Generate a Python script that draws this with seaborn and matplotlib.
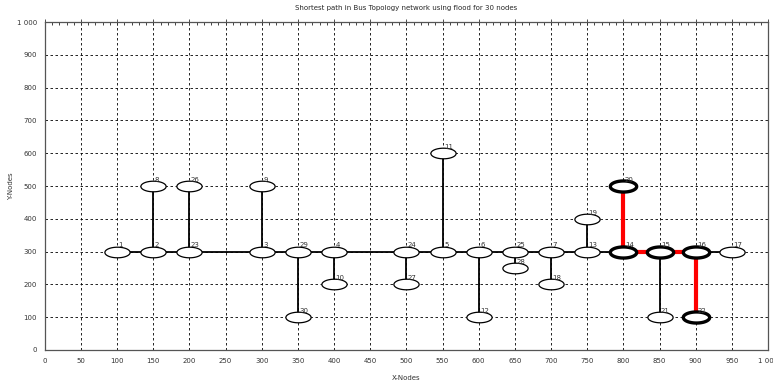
import numpy as np
import pandas as pd
import matplotlib
matplotlib.use("Agg")
import matplotlib.pyplot as plt
from matplotlib.path import Path
from matplotlib.ticker import MultipleLocator, FuncFormatter
import seaborn as sns

# ---- data ----
node_ids = [1, 2, 8, 23, 26, 3, 9, 29, 30, 4, 10, 24, 27, 5, 11, 6, 12,
            25, 28, 7, 18, 13, 19, 14, 20, 15, 21, 16, 22, 17]
node_x = [100, 150, 150, 200, 200, 300, 300, 350, 350, 400, 400, 500, 500, 550, 550, 600, 600,
          650, 650, 700, 700, 750, 750, 800, 800, 850, 850, 900, 900, 950]
node_y = [300, 300, 500, 300, 500, 300, 500, 300, 100, 300, 200, 300, 200, 300, 600, 300, 100,
          300, 250, 300, 200, 300, 400, 300, 500, 300, 100, 300, 100, 300]
bus_order = [1, 2, 23, 3, 29, 4, 24, 5, 6, 25, 7, 13, 14, 15, 16, 17]
branch_from = [2, 23, 3, 29, 4, 24, 5, 6, 25, 7, 13, 14, 15, 16]
branch_to = [8, 26, 9, 30, 10, 27, 11, 12, 28, 18, 19, 20, 21, 22]
path_nodes = [20, 14, 15, 16, 22]

pos = {n: (x, y) for n, x, y in zip(node_ids, node_x, node_y)}

sns.set_style("white")
plt.rcParams['font.family'] = ['DejaVu Sans']

fig = plt.figure(figsize=(7.73, 3.82), dpi=100)
ax = fig.add_axes([0.058, 0.084, 0.9355, 0.858])

# edges
edges = list(zip(bus_order[:-1], bus_order[1:])) + list(zip(branch_from, branch_to))
path_edges = set(frozenset(e) for e in zip(path_nodes[:-1], path_nodes[1:]))
for i, (a, b) in enumerate(edges):
    df = pd.DataFrame({"x": [pos[a][0], pos[b][0]], "y": [pos[a][1], pos[b][1]]})
    red = frozenset((a, b)) in path_edges
    sns.lineplot(data=df, x="x", y="y", ax=ax, sort=False,
                 color="red" if red else "black", linewidth=3.0 if red else 1.3,
                 zorder=3 if red else 2, estimator=None)

# node marker: ellipse
t = np.linspace(0, 2 * np.pi, 60)
verts = np.column_stack([np.cos(t), 0.42 * np.sin(t)])
ell = Path(verts, closed=True)

nodes = pd.DataFrame({"id": node_ids, "x": node_x, "y": node_y})
nodes["bold"] = nodes["id"].isin(path_nodes)
sns.scatterplot(data=nodes[~nodes["bold"]], x="x", y="y", marker=ell, s=330,
                facecolor="white", edgecolor="black", linewidth=0.9, ax=ax, zorder=4)
sns.scatterplot(data=nodes[nodes["bold"]], x="x", y="y", marker=ell, s=360,
                facecolor="white", edgecolor="black", linewidth=2.4, ax=ax, zorder=4)

for n, x, y in zip(node_ids, node_x, node_y):
    ax.text(x + 2, y + 10, str(n), fontsize=5, color="#333333", ha="left", va="bottom", zorder=5)

ax.set_xlim(0, 1000)
ax.set_ylim(0, 1000)
ax.xaxis.set_major_locator(MultipleLocator(50))
ax.xaxis.set_minor_locator(MultipleLocator(10))
ax.yaxis.set_major_locator(MultipleLocator(100))
ax.yaxis.set_minor_locator(MultipleLocator(50))
fmt = FuncFormatter(lambda v, p: "1 000" if v >= 1000 else f"{int(v)}")
ax.xaxis.set_major_formatter(fmt)
ax.yaxis.set_major_formatter(fmt)
ax.tick_params(which="major", direction="inout", length=4, width=0.6, labelsize=5, colors="#333333")
ax.tick_params(which="minor", direction="in", length=2, width=0.6)
ax.tick_params(axis="x", which="both", top=True)
ax.tick_params(axis="x", which="both", labeltop=False)
ax.grid(True, which="major", linestyle=(0, (3, 3)), color="black", linewidth=0.6)
for s in ax.spines.values():
    s.set_color("#555555")
    s.set_linewidth(0.9)

ax.set_title("Shortest path in Bus Topology network using flood for 30 nodes", fontsize=5, pad=9)
ax.set_xlabel("X-Nodes", fontsize=5, color="#333333", labelpad=8)
ax.set_ylabel("Y-Nodes", fontsize=5, color="#333333", labelpad=2)

fig.savefig("out.png", dpi=100)
